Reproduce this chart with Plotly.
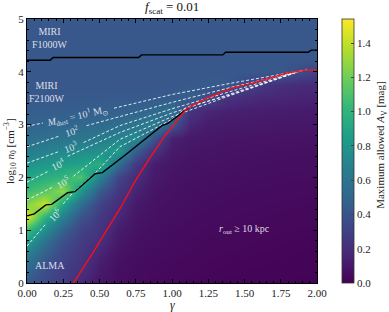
import plotly.graph_objects as go

# ---------------- data ----------------
gamma_grid = [0.0, 0.125, 0.25, 0.375, 0.5, 0.625, 0.75, 0.875, 1.0, 1.125, 1.25, 1.375, 1.5, 1.625, 1.75, 1.875, 2.0]
logn_grid = [0.0, 0.25, 0.5, 0.75, 1.0, 1.25, 1.5, 1.75, 2.0, 2.25, 2.5, 2.75, 3.0, 3.25, 3.5, 3.75, 4.0, 4.25, 4.5, 4.75, 5.0]

# Maximum allowed A_V [mag], rows = logn_grid, columns = gamma_grid
av_max = [
    [0.42, 0.34, 0.27, 0.17, 0.09, 0.06, 0.045, 0.035, 0.03, 0.025, 0.02, 0.018, 0.015, 0.013, 0.012, 0.01, 0.01],
    [0.52, 0.37, 0.29, 0.22, 0.11, 0.065, 0.05, 0.04, 0.035, 0.03, 0.025, 0.022, 0.02, 0.018, 0.016, 0.014, 0.012],
    [0.62, 0.45, 0.32, 0.25, 0.14, 0.075, 0.055, 0.045, 0.04, 0.035, 0.03, 0.027, 0.025, 0.022, 0.02, 0.018, 0.016],
    [0.83, 0.56, 0.37, 0.27, 0.20, 0.10, 0.065, 0.055, 0.045, 0.04, 0.035, 0.032, 0.03, 0.027, 0.025, 0.022, 0.02],
    [1.05, 0.75, 0.48, 0.31, 0.23, 0.12, 0.075, 0.06, 0.05, 0.045, 0.04, 0.037, 0.034, 0.032, 0.03, 0.028, 0.026],
    [1.46, 0.98, 0.66, 0.40, 0.26, 0.17, 0.09, 0.068, 0.058, 0.05, 0.046, 0.043, 0.04, 0.037, 0.035, 0.033, 0.031],
    [1.24, 1.42, 0.90, 0.55, 0.31, 0.20, 0.11, 0.075, 0.065, 0.057, 0.052, 0.048, 0.045, 0.042, 0.04, 0.038, 0.036],
    [1.05, 1.13, 1.29, 0.80, 0.44, 0.25, 0.15, 0.085, 0.072, 0.064, 0.058, 0.054, 0.05, 0.048, 0.046, 0.044, 0.042],
    [0.90, 0.96, 1.00, 1.11, 0.67, 0.33, 0.19, 0.11, 0.08, 0.072, 0.066, 0.062, 0.058, 0.055, 0.053, 0.051, 0.05],
    [0.77, 0.82, 0.85, 0.88, 0.96, 0.56, 0.26, 0.12, 0.09, 0.08, 0.074, 0.07, 0.066, 0.063, 0.06, 0.058, 0.057],
    [0.64, 0.68, 0.72, 0.74, 0.76, 0.85, 0.45, 0.22, 0.11, 0.09, 0.083, 0.078, 0.074, 0.071, 0.068, 0.066, 0.065],
    [0.555, 0.57, 0.59, 0.61, 0.64, 0.68, 0.75, 0.40, 0.14, 0.105, 0.095, 0.09, 0.085, 0.082, 0.08, 0.078, 0.076],
    [0.49, 0.50, 0.51, 0.52, 0.53, 0.56, 0.60, 0.66, 0.42, 0.16, 0.12, 0.11, 0.105, 0.10, 0.097, 0.095, 0.093],
    [0.46, 0.46, 0.46, 0.465, 0.47, 0.475, 0.49, 0.52, 0.57, 0.24, 0.16, 0.14, 0.13, 0.125, 0.12, 0.115, 0.11],
    [0.43, 0.43, 0.43, 0.435, 0.435, 0.44, 0.44, 0.44, 0.45, 0.47, 0.36, 0.23, 0.19, 0.17, 0.16, 0.15, 0.145],
    [0.42, 0.42, 0.42, 0.42, 0.42, 0.42, 0.42, 0.42, 0.42, 0.43, 0.44, 0.44, 0.34, 0.25, 0.21, 0.19, 0.18],
    [0.42, 0.42, 0.42, 0.42, 0.42, 0.42, 0.42, 0.42, 0.42, 0.42, 0.42, 0.42, 0.42, 0.42, 0.42, 0.36, 0.30],
    [0.42, 0.42, 0.42, 0.42, 0.42, 0.42, 0.42, 0.42, 0.42, 0.42, 0.42, 0.42, 0.42, 0.42, 0.42, 0.42, 0.42],
    [0.42, 0.42, 0.42, 0.42, 0.42, 0.42, 0.42, 0.42, 0.42, 0.42, 0.42, 0.42, 0.42, 0.42, 0.42, 0.42, 0.42],
    [0.42, 0.42, 0.42, 0.42, 0.42, 0.42, 0.42, 0.42, 0.42, 0.42, 0.42, 0.42, 0.42, 0.42, 0.42, 0.42, 0.42],
    [0.42, 0.42, 0.42, 0.42, 0.42, 0.42, 0.42, 0.42, 0.42, 0.42, 0.42, 0.42, 0.42, 0.42, 0.42, 0.42, 0.42],
]

# MIRI F1000W detection boundary (black, top)
f1000w_gamma = [0.0, 0.16, 0.18, 0.77, 0.79, 1.35, 1.37, 1.94, 1.96, 2.0]
f1000w_logn = [4.22, 4.22, 4.27, 4.27, 4.32, 4.32, 4.37, 4.37, 4.41, 4.41]

# MIRI F2100W / ALMA boundary (black, diagonal)
f2100w_gamma = [0.0, 0.05, 0.13, 0.17, 0.28, 0.33, 0.47, 0.52, 0.68, 0.93, 0.97, 1.11]
f2100w_logn = [1.27, 1.31, 1.48, 1.49, 1.71, 1.73, 2.07, 2.09, 2.43, 2.98, 3.02, 3.31]

# r_out = 10 kpc boundary (red)
rout_gamma = [0.32, 0.45, 0.55, 0.65, 0.75, 0.85, 0.95, 1.03, 1.10, 1.24, 1.40, 1.56, 1.70, 1.80, 1.93, 2.0]
rout_logn = [0.0, 0.55, 1.0, 1.45, 1.95, 2.38, 2.78, 3.05, 3.30, 3.50, 3.68, 3.79, 3.90, 3.98, 4.03, 4.03]

# M_dust contours (white dashed); None = gap for the inline label
mdust_levels = ["1", "2", "3", "4", "5", "6"]
mdust_gamma = [
    [0.0, 0.11, None, 0.60, 1.0, 1.4, 1.93],
    [0.0, 0.22, None, 0.41, 0.64, 1.0, 1.4, 1.91],
    [0.0, 0.22, None, 0.39, 0.64, 1.0, 1.4, 1.89],
    [0.0, 0.15, None, 0.28, 0.64, 1.0, 1.4, 1.87],
    [0.0, 0.18, None, 0.32, 0.64, 1.0, 1.4, 1.85],
    [0.0, 0.13, None, 0.25, 0.32, 0.47, 0.64, 1.0, 1.1, 1.4, 1.83],
]
mdust_logn = [
    [2.97, 3.03, None, 3.31, 3.57, 3.78, 4.04],
    [2.58, 2.78, None, 2.98, 3.15, 3.42, 3.70, 4.03],
    [2.27, 2.49, None, 2.66, 2.98, 3.30, 3.63, 4.02],
    [1.91, 2.12, None, 2.40, 2.85, 3.22, 3.58, 4.00],
    [1.57, 1.82, None, 2.02, 2.72, 3.15, 3.55, 3.98],
    [0.70, 1.12, None, 1.50, 1.72, 2.08, 2.58, 3.10, 3.33, 3.56, 3.97],
]
label_gamma = [0.35, 0.31, 0.30, 0.215, 0.25, 0.19]
label_logn = [3.16, 2.87, 2.57, 2.26, 1.92, 1.29]
label_angle = [-13, -17, -21, -27, -30, -47]

x_ticks = [0.0, 0.25, 0.5, 0.75, 1.0, 1.25, 1.5, 1.75, 2.0]
y_ticks = [0, 1, 2, 3, 4, 5]
cbar_ticks = [0.0, 0.2, 0.4, 0.6, 0.8, 1.0, 1.2, 1.4]

# ---------------- figure ----------------
FONT = "Liberation Serif"
txt_col = "rgba(235,235,245,0.92)"

fig = go.Figure()
fig.add_trace(go.Heatmap(
    x=gamma_grid, y=logn_grid, z=av_max, zsmooth="best",
    colorscale="Viridis", zmin=0, zmax=1.54,
    colorbar=dict(
        x=1.086, xanchor="left", xpad=0, y=0.5, yanchor="middle", len=1.0, lenmode="fraction",
        ypad=0, thickness=12, outlinewidth=0.8, outlinecolor="#333",
        tickvals=cbar_ticks, tickformat=".1f", ticks="inside", ticklen=3,
        tickfont=dict(family=FONT, size=11, color="#222"),
    ),
    hoverinfo="skip",
))

for g, l in zip(mdust_gamma, mdust_logn):
    fig.add_trace(go.Scatter(x=g, y=l, mode="lines", connectgaps=False,
                             line=dict(color="rgba(255,255,255,0.85)", width=1, dash="3px,2px"),
                             hoverinfo="skip", showlegend=False))

fig.add_trace(go.Scatter(x=f1000w_gamma, y=f1000w_logn, mode="lines",
                         line=dict(color="black", width=1.4), showlegend=False, hoverinfo="skip"))
fig.add_trace(go.Scatter(x=f2100w_gamma, y=f2100w_logn, mode="lines",
                         line=dict(color="black", width=1.4), showlegend=False, hoverinfo="skip"))
fig.add_trace(go.Scatter(x=rout_gamma, y=rout_logn, mode="lines",
                         line=dict(color="#ff1010", width=1.3), showlegend=False, hoverinfo="skip"))

labels = ["<i>M</i><sub>dust</sub> = 10<sup>1</sup> M<sub>⊙</sub>"] + [f"10<sup>{k}</sup>" for k in mdust_levels[1:]]
for t, gx, ly, ang in zip(labels, label_gamma, label_logn, label_angle):
    fig.add_annotation(x=gx, y=ly, text=t, showarrow=False, textangle=ang,
                       font=dict(family=FONT, size=10, color=txt_col))

for t, gx, ly in [("MIRI<br>F1000W", 0.16, 4.64), ("MIRI<br>F2100W", 0.14, 3.62),
                  ("ALMA", 0.16, 0.34), ("<i>r</i><sub>out</sub> ≥ 10 kpc", 1.5, 1.02)]:
    fig.add_annotation(x=gx, y=ly, text=t, showarrow=False,
                       font=dict(family=FONT, size=10, color=txt_col))

fig.add_annotation(xref="paper", yref="paper", x=0.5, y=1.0, yanchor="bottom", yshift=1,
                   text="<i>f</i><sub>scat</sub> = 0.01", showarrow=False,
                   font=dict(family=FONT, size=13, color="#111"))
fig.add_annotation(xref="paper", yref="paper", x=1.221, y=0.52, xanchor="center", yanchor="middle",
                   textangle=-90, text="Maximum allowed <i>A</i><sub>V</sub> [mag]", showarrow=False,
                   font=dict(family=FONT, size=11, color="#222"))
fig.add_annotation(xref="paper", yref="paper", x=-0.0586, y=0.5, xanchor="center", yanchor="middle",
                   textangle=-90, text="log<sub>10</sub> <i>n</i><sub>0</sub> [cm<sup>−3</sup>]",
                   showarrow=False, font=dict(family=FONT, size=11, color="#222"))
fig.add_annotation(xref="paper", yref="paper", x=0.5, y=-0.083, xanchor="center", yanchor="middle",
                   text="<i>γ</i>", showarrow=False,
                   font=dict(family=FONT, size=12, color="#222"))

axis_common = dict(showgrid=False, zeroline=False, showline=True, linecolor="black", linewidth=1,
                   mirror="allticks", ticks="inside", ticklen=4, tickcolor="black", automargin=False,
                   tickfont=dict(family=FONT, size=11, color="#222"))
fig.update_xaxes(range=[0, 2], tickvals=x_ticks, tickformat=".2f",
                 minor=dict(dtick=0.05, ticks="inside", ticklen=2, tickcolor="black"),
                 **axis_common)
fig.update_yaxes(range=[0, 5], tickvals=y_ticks,
                 minor=dict(dtick=0.2, ticks="inside", ticklen=2, tickcolor="black"),
                 **axis_common)

fig.update_layout(width=389, height=312, margin=dict(l=27, r=72, t=19, b=29, autoexpand=False),
                  plot_bgcolor="white", paper_bgcolor="white", showlegend=False,
                  font=dict(family=FONT))
fig.write_html("out.html", config={"displayModeBar": False},
               post_script="document.body.style.margin='0';")
